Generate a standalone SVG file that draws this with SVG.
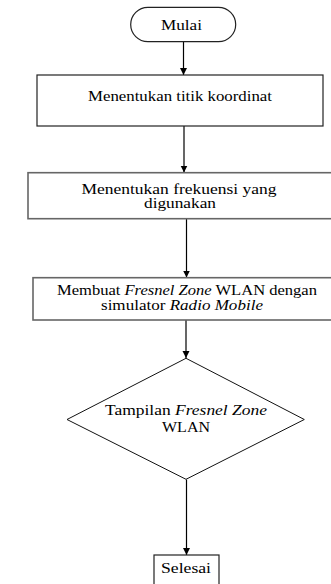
<svg xmlns="http://www.w3.org/2000/svg" width="331" height="584" viewBox="0 0 331 584">
<style>
text{font-family:"Liberation Serif","DejaVu Serif",serif;font-size:14px;fill:#000;text-anchor:middle}
.n{fill:#fff;stroke:#222;stroke-width:1.2}
.g{fill:#fff;stroke:#666;stroke-width:1.6}
.c{fill:none;stroke:#000;stroke-width:1.2;marker-end:url(#ah)}
.i{font-style:italic}
</style>
<defs>
<marker id="ah" markerWidth="8" markerHeight="8" refX="7" refY="4" orient="auto" markerUnits="userSpaceOnUse">
<path d="M0,0.5 L7,4 L0,7.5 Z" fill="#000"/>
</marker>
</defs>
<g id="connectors">
<line class="c" x1="183.5" y1="42" x2="183.5" y2="75"/>
<line class="c" x1="184" y1="126" x2="184" y2="172.5"/>
<line class="c" x1="186.5" y1="219" x2="186.5" y2="277.5"/>
<line class="c" x1="186" y1="320" x2="186" y2="358"/>
<line class="c" x1="186.5" y1="479.5" x2="186.5" y2="555"/>
</g>
<g id="mulai">
<rect class="n" x="130.7" y="7.3" width="105" height="34.4" rx="17.2"/>
<text x="181.5" y="30" font-family="Liberation Serif, serif" textLength="41" lengthAdjust="spacingAndGlyphs">Mulai</text>
</g>
<g id="box1">
<rect class="n" x="37" y="75" width="286" height="51"/>
<text x="180" y="101" font-family="Liberation Serif, serif" textLength="184" lengthAdjust="spacingAndGlyphs">Menentukan titik koordinat</text>
</g>
<g id="box2">
<rect class="g" x="28" y="172.7" width="310" height="46"/>
<text x="179" y="194" font-family="Liberation Serif, serif" textLength="195" lengthAdjust="spacingAndGlyphs">Menentukan frekuensi yang</text>
<text x="180" y="208" font-family="Liberation Serif, serif" textLength="72" lengthAdjust="spacingAndGlyphs">digunakan</text>
</g>
<g id="box3">
<rect class="g" x="33" y="277.7" width="310" height="42.3"/>
<text x="187" y="295" font-family="Liberation Serif, serif" textLength="260" lengthAdjust="spacingAndGlyphs">Membuat <tspan class="i">Fresnel Zone</tspan> WLAN dengan</text>
<text x="182" y="310" font-family="Liberation Serif, serif" textLength="162" lengthAdjust="spacingAndGlyphs">simulator <tspan class="i">Radio Mobile</tspan></text>
</g>
<g id="decision">
<polygon class="n" points="186,358.3 304.3,419.5 186,479.3 67,419.5" style="stroke:#111;stroke-width:1"/>
<text x="186" y="415" font-family="Liberation Serif, serif" textLength="162" lengthAdjust="spacingAndGlyphs">Tampilan <tspan class="i">Fresnel Zone</tspan></text>
<text x="186" y="431.5" font-family="Liberation Serif, serif" textLength="48" lengthAdjust="spacingAndGlyphs">WLAN</text>
</g>
<g id="selesai">
<rect class="n" x="154" y="555" width="65" height="35"/>
<text x="186" y="573" font-family="Liberation Serif, serif" textLength="50" lengthAdjust="spacingAndGlyphs">Selesai</text>
</g>
</svg>
